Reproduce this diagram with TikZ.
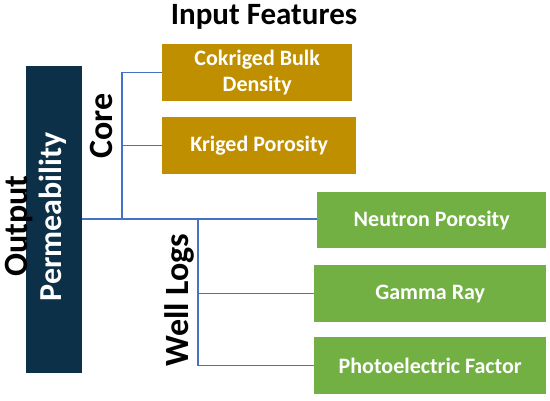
\documentclass[tikz,border=0pt]{standalone}
\usepackage{fontspec}
\setmainfont{Carlito}
\definecolor{navy}{HTML}{0C3048}
\definecolor{gold}{HTML}{BF8F00}
\definecolor{leaf}{HTML}{72B043}
\definecolor{wire}{HTML}{4472C4}
\begin{document}
\begin{tikzpicture}[x=1pt,y=-1pt,
  box/.style={inner sep=0pt,anchor=north west,text=white,align=center,font=\bfseries\fontsize{22}{26}\selectfont},
  goldbox/.style={box,fill=gold},
  greenbox/.style={box,fill=leaf},
  label/.style={font=\bfseries\fontsize{34}{38}\selectfont,rotate=90},
  wireline/.style={draw=wire,line width=1.1pt}]
\useasboundingbox (0,0) rectangle (550,400);
\node[anchor=center,font=\bfseries\fontsize{31}{34}\selectfont] (title) at (264,17) {Input Features};
\node[fill=navy,inner sep=0pt,minimum width=56pt,minimum height=307pt,anchor=north west] (perm) at (26,66) {};
\node[label,text=white,font=\bfseries\fontsize{32}{36}\selectfont] (permtxt) at (53,217) {Permeability};
\node[label] (output) at (19,226) {Output};
\node[label] (core) at (101,126) {Core};
\node[label] (well) at (179,300) {Well Logs};
\node[goldbox,minimum width=190pt,minimum height=57pt] (ckbd) at (162,44) {Cokriged Bulk\\Density};
\node[goldbox,minimum width=194pt,minimum height=57pt] (kp) at (162,117) {Kriged Porosity};
\node[greenbox,minimum width=229pt,minimum height=56pt] (np) at (317,192) {Neutron Porosity};
\node[greenbox,minimum width=232pt,minimum height=57pt] (gr) at (314,265) {Gamma Ray};
\node[greenbox,minimum width=232pt,minimum height=57pt] (pef) at (314,337) {Photoelectric Factor};
\coordinate (cj) at (122,219);
\coordinate (wj) at (198,219);
\draw[wireline] (perm.east |- cj) -- (cj) -- (wj) -- (np.west |- wj);
\draw[wireline] (cj) |- (ckbd.west);
\draw[wireline] (cj |- kp.west) -- (kp.west);
\draw[wireline] (wj) |- (pef.west);
\draw[wireline] (wj |- gr.west) -- (gr.west);
\end{tikzpicture}
\end{document}
